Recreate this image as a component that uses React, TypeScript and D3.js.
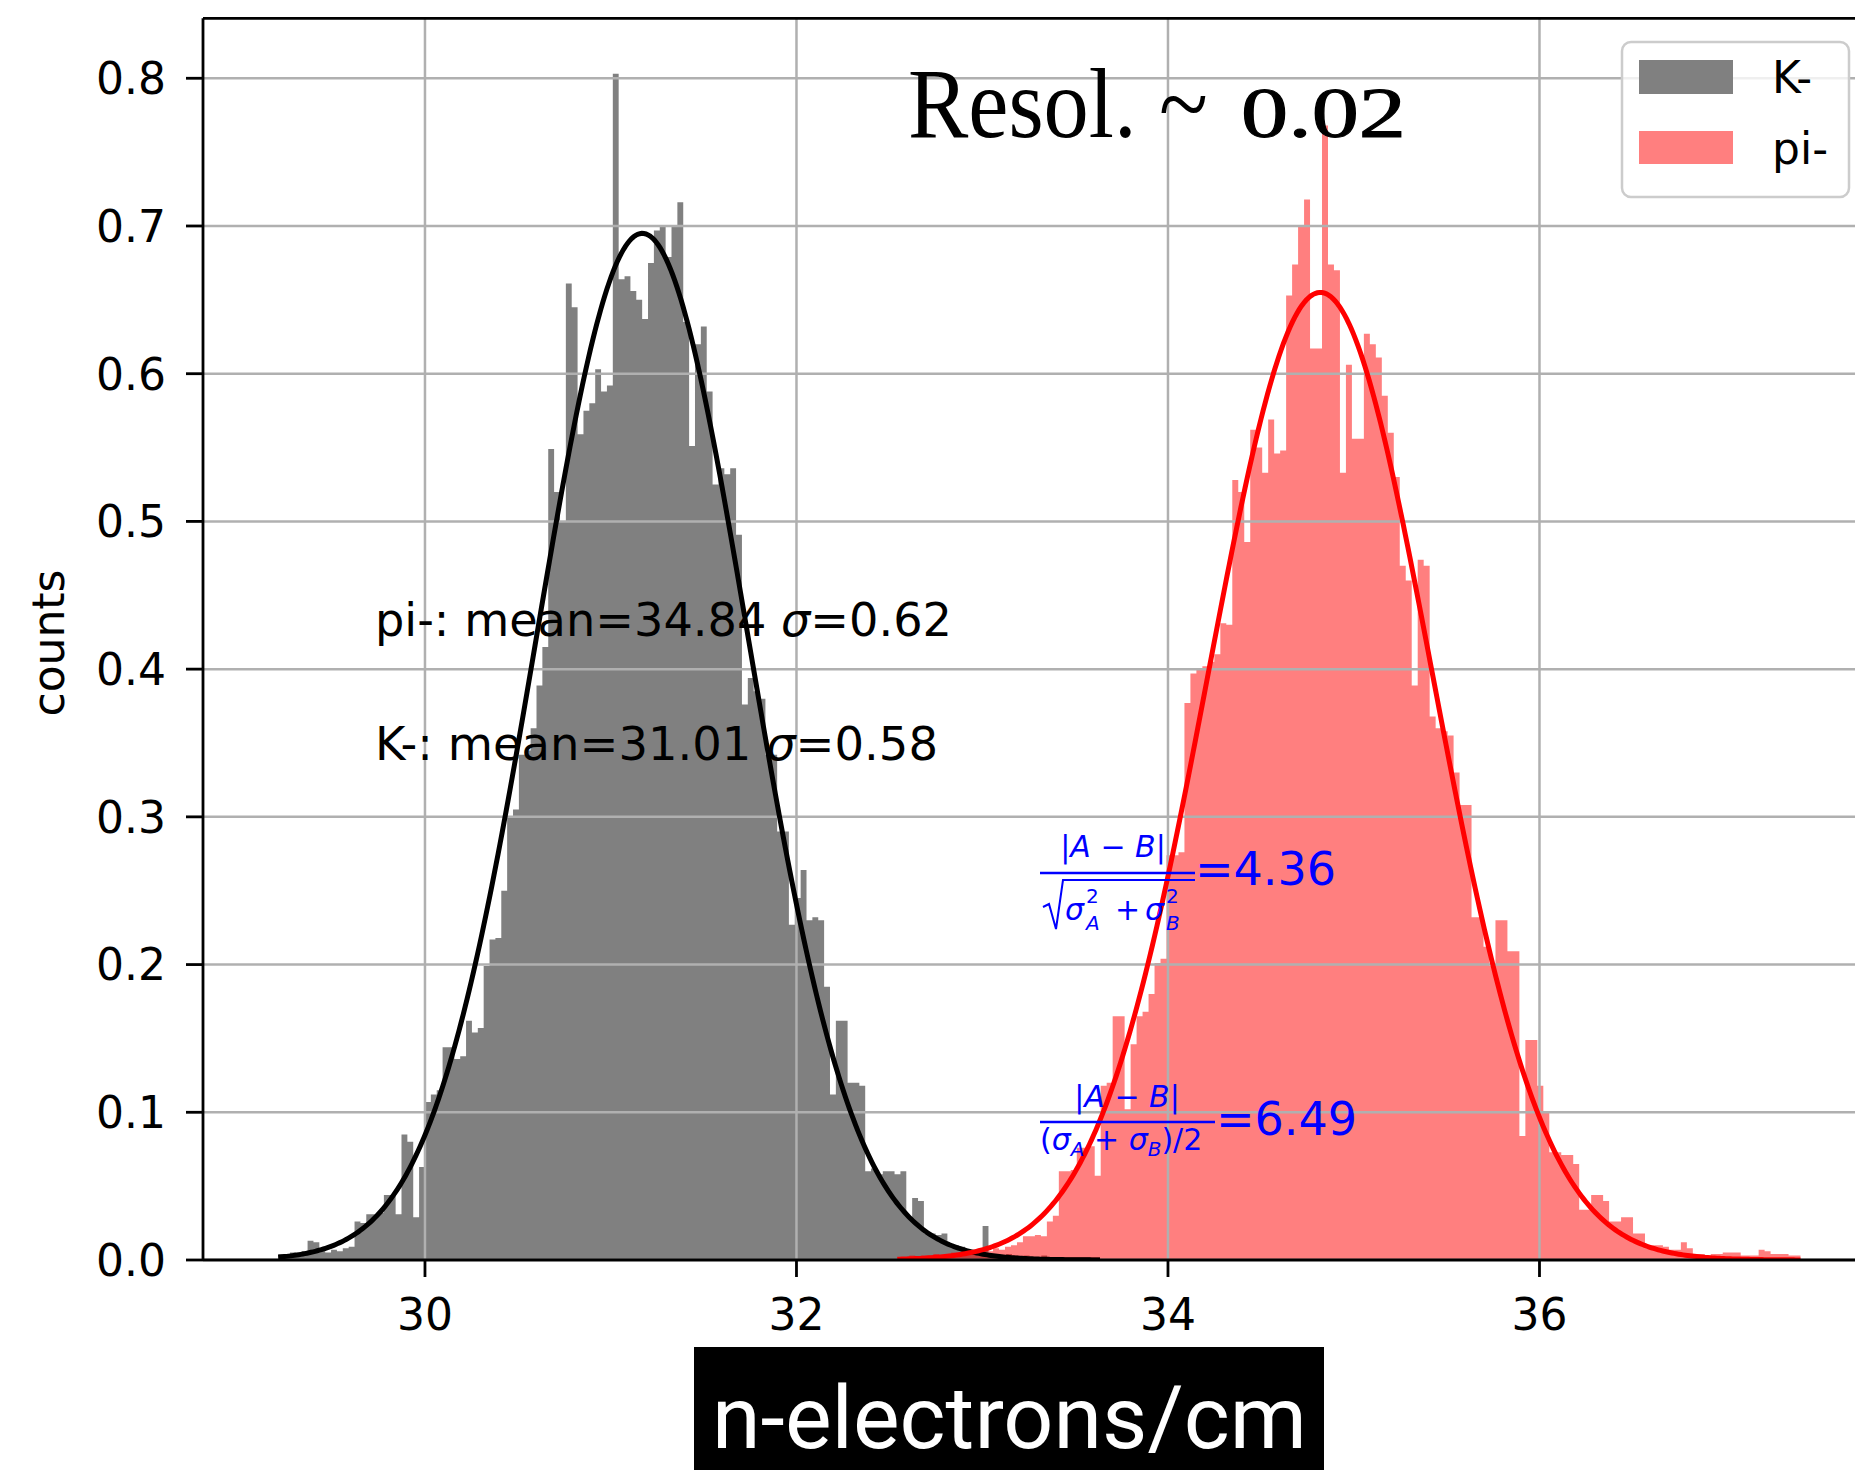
import React from 'react';
import * as d3 from 'd3';

const W = 1855;
const H = 1470;

// axis ticks
const xTicks = [30, 32, 34, 36];
const yTicks = [0, 0.1, 0.2, 0.3, 0.4, 0.5, 0.6, 0.7, 0.8];

// K- histogram (bin start, bin width, normalized counts)
const kStart = 29.21;
const kBinWidth = 0.0316;
const kCounts = [
  0.004, 0.003, 0.005, 0.004, 0.006, 0.013, 0.012, 0.006, 0.005, 0.007,
  0.006, 0.008, 0.009, 0.026, 0.025, 0.031, 0.031, 0.032, 0.044, 0.044,
  0.031, 0.085, 0.080, 0.029, 0.063, 0.107, 0.112, 0.115, 0.144, 0.144,
  0.136, 0.138, 0.162, 0.154, 0.157, 0.199, 0.217, 0.218, 0.250, 0.300,
  0.305, 0.342, 0.345, 0.360, 0.389, 0.415, 0.549, 0.520, 0.500, 0.661,
  0.645, 0.559, 0.575, 0.580, 0.603, 0.588, 0.592, 0.803, 0.664, 0.666,
  0.656, 0.650, 0.637, 0.675, 0.697, 0.700, 0.679, 0.700, 0.716, 0.635,
  0.551, 0.620, 0.632, 0.588, 0.525, 0.536, 0.532, 0.536, 0.491, 0.376,
  0.394, 0.385, 0.380, 0.342, 0.342, 0.290, 0.290, 0.227, 0.245, 0.264,
  0.230, 0.232, 0.230, 0.185, 0.112, 0.162, 0.162, 0.120, 0.120, 0.118,
  0.060, 0.062, 0.058, 0.060, 0.060, 0.058, 0.060, 0.029, 0.042, 0.040,
  0.018, 0.018, 0.017, 0.018, 0.010, 0.010, 0.009, 0.005, 0.005, 0.006,
  0.023, 0.004, 0.004, 0.003, 0.004, 0.003, 0.002, 0.003, 0.002, 0.002,
  0.003, 0.002, 0.002, 0.002, 0.002, 0.002, 0.002, 0.002, 0.002, 0.002,
];

// pi- histogram
const piStart = 32.543;
const piBinWidth = 0.0322;
const piCounts = [
  0.002, 0.002, 0.003, 0.002, 0.003, 0.003, 0.004, 0.003, 0.004, 0.005,
  0.004, 0.005, 0.006, 0.005, 0.007, 0.006, 0.008, 0.007, 0.009, 0.010,
  0.012, 0.016, 0.016, 0.017, 0.016, 0.026, 0.030, 0.060, 0.060, 0.061,
  0.076, 0.076, 0.077, 0.057, 0.118, 0.120, 0.165, 0.165, 0.102, 0.146,
  0.165, 0.168, 0.180, 0.201, 0.204, 0.274, 0.274, 0.276, 0.377, 0.397,
  0.400, 0.402, 0.405, 0.410, 0.431, 0.430, 0.528, 0.520, 0.486, 0.562,
  0.550, 0.533, 0.569, 0.546, 0.548, 0.653, 0.674, 0.700, 0.718, 0.617,
  0.617, 0.768, 0.674, 0.670, 0.533, 0.606, 0.556, 0.556, 0.627, 0.620,
  0.611, 0.585, 0.560, 0.530, 0.470, 0.460, 0.389, 0.474, 0.470, 0.368,
  0.360, 0.358, 0.355, 0.330, 0.308, 0.308, 0.232, 0.232, 0.212, 0.199,
  0.230, 0.230, 0.209, 0.209, 0.084, 0.149, 0.149, 0.118, 0.100, 0.073,
  0.073, 0.071, 0.071, 0.065, 0.034, 0.034, 0.044, 0.044, 0.040, 0.026,
  0.026, 0.029, 0.029, 0.018, 0.018, 0.010, 0.010, 0.010, 0.009, 0.007,
  0.007, 0.012, 0.008, 0.004, 0.004, 0.003, 0.004, 0.004, 0.005, 0.005,
  0.005, 0.003, 0.003, 0.003, 0.007, 0.006, 0.004, 0.004, 0.004, 0.003,
  0.003,
];

// Gaussian fit parameters (as drawn)
const kFit = { mean: 31.17, sigma: 0.57, peak: 0.695 };
const piFit = { mean: 34.82, sigma: 0.603, peak: 0.655 };

const legendLabels = ['K-', 'pi-'];
const statLines = ['pi-: mean=34.84 ', 'K-: mean=31.01 '];
const statSigmas = ['=0.62', '=0.58'];
const sepValues = ['=4.36', '=6.49'];

const FONT = 'DejaVu Sans';
const GRAY = '#808080';
const RED_A = 'rgba(255,0,0,0.5)';
const BLUE = '#0000ff';

function histPoints(start: number, w: number, counts: number[]) {
  const pts = counts.map((c, i) => ({ x: start + i * w, y: c }));
  pts.push({ x: start + counts.length * w, y: counts[counts.length - 1] });
  return pts;
}

function fitPoints(fit: { mean: number; sigma: number; peak: number }, x0: number, x1: number) {
  return d3.range(0, 401).map((i) => {
    const x = x0 + ((x1 - x0) * i) / 400;
    const z = (x - fit.mean) / fit.sigma;
    return { x, y: fit.peak * Math.exp(-0.5 * z * z) };
  });
}

export default function App() {
  const left = 203;
  const top = 18.3;
  const bottom = 1260;
  const x = d3.scaleLinear().domain([28.805, 37.95]).range([left, 1901.7]);
  const y = d3.scaleLinear().domain([0, 0.8406]).range([bottom, top]);

  const area = d3
    .area<{ x: number; y: number }>()
    .x((d) => x(d.x))
    .y0(y(0))
    .y1((d) => y(d.y))
    .curve(d3.curveStepAfter);
  const line = d3
    .line<{ x: number; y: number }>()
    .x((d) => x(d.x))
    .y((d) => y(d.y));

  const kEnd = kStart + kCounts.length * kBinWidth;
  const piEnd = piStart + piCounts.length * piBinWidth;
  const fmt = d3.format('.1f');
  const right = W + 10;

  return (
    <svg
      width={W}
      height={H}
      style={{ position: 'absolute', left: 0, top: 0, background: '#fff' }}
      fontFamily={FONT}
    >
      <rect x={0} y={0} width={W} height={H} fill="#fff" />
      <defs>
        <clipPath id="plot">
          <rect x={left} y={top} width={right - left} height={bottom - top} />
        </clipPath>
      </defs>
      <g clipPath="url(#plot)">
        <path d={area(histPoints(kStart, kBinWidth, kCounts)) || ''} fill={GRAY} />
        <path d={area(histPoints(piStart, piBinWidth, piCounts)) || ''} fill={RED_A} />
        {/* grid */}
        {xTicks.map((t) => (
          <line key={'gx' + t} x1={x(t)} x2={x(t)} y1={top} y2={bottom} stroke="#b0b0b0" strokeWidth={2.5} />
        ))}
        {yTicks.map((t) => (
          <line key={'gy' + t} x1={left} x2={right} y1={y(t)} y2={y(t)} stroke="#b0b0b0" strokeWidth={2.5} />
        ))}
        <path d={line(fitPoints(kFit, kStart, kEnd)) || ''} fill="none" stroke="#000" strokeWidth={5} />
        <path d={line(fitPoints(piFit, piStart, piEnd)) || ''} fill="none" stroke="#ff0000" strokeWidth={5} />
      </g>

      {/* spines */}
      <line x1={left} x2={left} y1={top} y2={bottom} stroke="#000" strokeWidth={2.8} />
      <line x1={left} x2={right} y1={bottom} y2={bottom} stroke="#000" strokeWidth={2.8} />
      <line x1={left} x2={right} y1={top} y2={top} stroke="#000" strokeWidth={2.8} />

      {/* y ticks */}
      {yTicks.map((t) => (
        <g key={'yt' + t}>
          <line x1={left - 17} x2={left} y1={y(t)} y2={y(t)} stroke="#000" strokeWidth={2.8} />
          <text x={166} y={y(t)} dy="0.36em" textAnchor="end" fontSize={44} fill="#000">
            {fmt(t)}
          </text>
        </g>
      ))}
      {/* x ticks */}
      {xTicks.map((t) => (
        <g key={'xt' + t}>
          <line x1={x(t)} x2={x(t)} y1={bottom} y2={bottom + 17} stroke="#000" strokeWidth={2.8} />
          <text x={x(t)} y={1330} textAnchor="middle" fontSize={44} fill="#000">
            {t}
          </text>
        </g>
      ))}

      <text transform="translate(64,643) rotate(-90)" textAnchor="middle" fontSize={44} fill="#000">
        counts
      </text>

      {/* stat annotations */}
      {statLines.map((s, i) => (
        <text
          key={'st' + i}
          x={375}
          y={i === 0 ? 636 : 760}
          fontSize={46}
          fill="#000"
          style={{ whiteSpace: 'pre' }}
          textLength={i === 0 ? 577 : 563}
          lengthAdjust="spacingAndGlyphs"
        >
          {s}
          <tspan fontStyle="italic">σ</tspan>
          {statSigmas[i]}
        </text>
      ))}

      {/* separation formula 1 */}
      <g fill={BLUE}>
        <text x={1113} y={857} fontSize={30} textAnchor="middle" style={{ whiteSpace: 'pre' }}>
          |<tspan fontStyle="italic">A</tspan>{' − '}<tspan fontStyle="italic">B</tspan>|
        </text>
        <line x1={1040} x2={1195} y1={873} y2={873} stroke={BLUE} strokeWidth={2.5} />
        <path d="M1043,907 L1049,904 L1056,929 L1063,880 L1195,880" stroke={BLUE} fill="none" strokeWidth={2} />
        <text x={1065} y={920} fontSize={30} fontStyle="italic">σ</text>
        <text x={1086} y={903} fontSize={20}>2</text>
        <text x={1086} y={930} fontSize={20} fontStyle="italic">A</text>
        <text x={1115} y={920} fontSize={30}>+</text>
        <text x={1145} y={920} fontSize={30} fontStyle="italic">σ</text>
        <text x={1166} y={903} fontSize={20}>2</text>
        <text x={1166} y={930} fontSize={20} fontStyle="italic">B</text>
        <text x={1195} y={885} fontSize={46}>{sepValues[0]}</text>
      </g>

      {/* separation formula 2 */}
      <g fill={BLUE}>
        <text x={1127} y={1107} fontSize={30} textAnchor="middle" style={{ whiteSpace: 'pre' }}>
          |<tspan fontStyle="italic">A</tspan>{' − '}<tspan fontStyle="italic">B</tspan>|
        </text>
        <line x1={1040} x2={1215} y1={1122} y2={1122} stroke={BLUE} strokeWidth={2.5} />
        <text x={1040} y={1150} fontSize={30} style={{ whiteSpace: 'pre' }}>
          (<tspan fontStyle="italic">σ</tspan>
          <tspan fontSize={20} dy={6} fontStyle="italic">A</tspan>
          <tspan dy={-6}>{' + '}</tspan>
          <tspan fontStyle="italic">σ</tspan>
          <tspan fontSize={20} dy={6} fontStyle="italic">B</tspan>
          <tspan dy={-6}>)/2</tspan>
        </text>
        <text x={1216} y={1135} fontSize={46}>{sepValues[1]}</text>
      </g>

      {/* title */}
      <text x={908} y={137} fontFamily="Liberation Serif" fontSize={100} fill="#000" textLength={300} lengthAdjust="spacingAndGlyphs">
        Resol. ~
      </text>
      <text
        transform="translate(1241,137) scale(1,0.72)"
        fontFamily="Liberation Serif"
        fontSize={100}
        fill="#000"
        stroke="#000"
        strokeWidth={1.5}
        textLength={165}
        lengthAdjust="spacingAndGlyphs"
      >
        0.02
      </text>

      {/* legend */}
      <g>
        <rect x={1622} y={42} width={227} height={155} rx={9} fill="#fff" fillOpacity={0.8} stroke="#cccccc" strokeWidth={2.5} />
        <rect x={1639} y={60} width={94} height={34} fill={GRAY} />
        <rect x={1639} y={131} width={94} height={33} fill={RED_A} />
        <text x={1772} y={93} fontSize={44} fill="#000">{legendLabels[0]}</text>
        <text x={1772} y={164} fontSize={44} fill="#000">{legendLabels[1]}</text>
      </g>

      {/* x label box */}
      <rect x={694} y={1347} width={630} height={123} fill="#000" />
      <text x={712} y={1448} fontFamily="Roboto" fontSize={87} fill="#fff" textLength={595} lengthAdjust="spacingAndGlyphs">
        n-electrons/cm
      </text>
    </svg>
  );
}
